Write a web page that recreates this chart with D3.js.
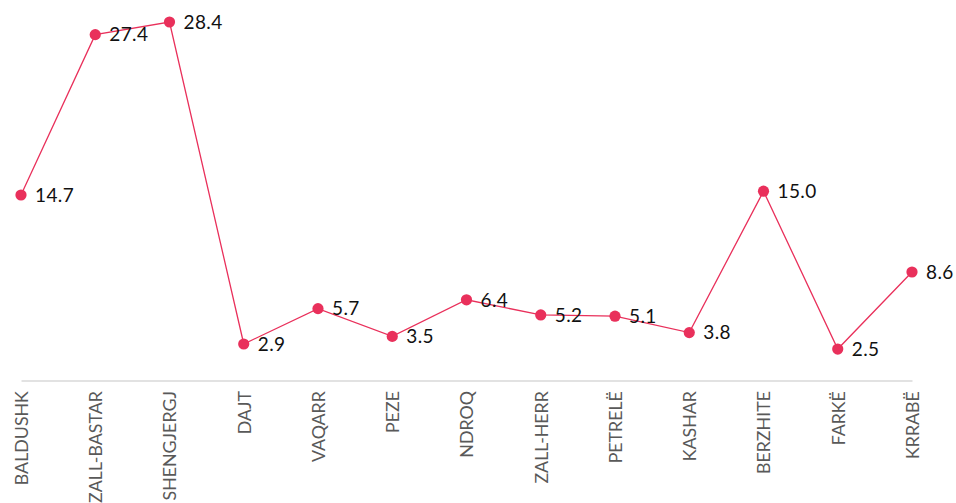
<!DOCTYPE html>
<html>
<head>
<meta charset="utf-8">
<script src="https://cdn.jsdelivr.net/npm/d3@7"></script>
<style>
  html, body { margin: 0; padding: 0; background: #fff; }
  svg { display: block; }
</style>
</head>
<body>
<svg id="chart" width="956" height="503"></svg>
<script>
const categories = ["BALDUSHK", "ZALL-BASTAR", "SHENGJERGJ", "DAJT", "VAQARR", "PEZE", "NDROQ", "ZALL-HERR", "PETRELË", "KASHAR", "BERZHITE", "FARKË", "KRRABË"];
const values = [14.7, 27.4, 28.4, 2.9, 5.7, 3.5, 6.4, 5.2, 5.1, 3.8, 15.0, 2.5, 8.6];

const svg = d3.select("#chart");
const color = "#e9305b";

const x = d3.scalePoint().domain(categories).range([21, 912]);
const y = d3.scaleLinear().domain([0, 28.4]).range([380.6, 22]);

// axis baseline
const xAxis = d3.axisBottom(x).tickSize(0).tickPadding(0);
const gx = svg.append("g").attr("transform", `translate(0,${y(0)})`).call(xAxis);
gx.select(".domain").attr("stroke", "#d9d9d9").attr("stroke-width", 1.5);
gx.selectAll(".tick text")
  .attr("font-family", "Lato, 'Open Sans', sans-serif")
  .attr("font-size", 17.8)
  .attr("fill", "#595959")
  .attr("text-anchor", "end")
  .attr("transform", "translate(0,10.5) rotate(-90)")
  .attr("x", 0)
  .attr("y", 0)
  .attr("dy", "0.36em");

const line = d3.line().x((d, i) => x(categories[i])).y(d => y(d));
svg.append("path")
  .datum(values)
  .attr("d", line)
  .attr("fill", "none")
  .attr("stroke", color)
  .attr("stroke-width", 1.3);

svg.selectAll("circle.pt")
  .data(values)
  .enter().append("circle")
  .attr("class", "pt")
  .attr("cx", (d, i) => x(categories[i]))
  .attr("cy", d => y(d))
  .attr("r", 5.6)
  .attr("fill", color);

svg.selectAll("text.val")
  .data(values)
  .enter().append("text")
  .attr("class", "val")
  .attr("x", (d, i) => x(categories[i]) + 14)
  .attr("y", d => y(d))
  .attr("dy", "0.36em")
  .attr("font-family", "Lato, 'Open Sans', sans-serif")
  .attr("font-size", 19)
  .attr("letter-spacing", 0.4)
  .attr("fill", "#111")
  .text(d => d.toFixed(1));
</script>
</body>
</html>
